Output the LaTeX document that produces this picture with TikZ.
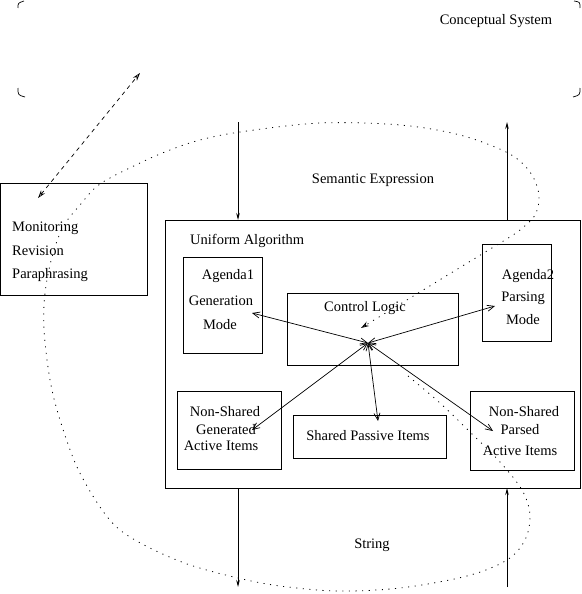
\documentclass[tikz,border=0pt]{standalone}
\usepackage{fontspec}
\setmainfont{Liberation Serif}
\usetikzlibrary{arrows.meta}
\begin{document}
\begin{tikzpicture}[x=1pt,y=-1pt,
  box/.style={draw,line width=0.8pt,inner sep=0pt,outer sep=0pt},
  lbl/.style={inner sep=0pt,font=\fontsize{14.5}{17}\selectfont},
  conn/.style={line width=0.7pt},
  dbl/.style={line width=0.7pt,{Straight Barb[length=7pt,width=6pt]}-{Straight Barb[length=7pt,width=6pt]}},
  flow/.style={line width=0.8pt,-{Stealth[length=7pt,width=3.5pt]}},
  dotline/.style={line width=0.8pt,dash pattern=on 1.1pt off 5.5pt},
  dashline/.style={line width=0.7pt,dash pattern=on 4pt off 4pt}]
\useasboundingbox (0,0) rectangle (581,594);
% Conceptual system corners
\draw[line width=0.7pt] (18,8) .. controls (18,3) .. (24,1);
\draw[line width=0.7pt] (18,88) .. controls (18,95) .. (25,97);
\draw[line width=0.7pt] (574,1) .. controls (580,2) .. (580,8);
\draw[line width=0.7pt] (580,88) .. controls (580,95) .. (573,97);
\node[lbl] (cs) at (496,21) {Conceptual System};
% boxes
\node[box,minimum width=147pt,minimum height=112pt] (mon) at (74.3,239) {};
\node[box,minimum width=415pt,minimum height=268pt] (ua) at (372.5,354) {};
\node[box,minimum width=79pt,minimum height=96pt] (ag1) at (222.5,305) {};
\node[box,minimum width=171pt,minimum height=72pt] (cl) at (372.5,329) {};
\node[box,minimum width=69pt,minimum height=97pt] (ag2) at (516.5,292.5) {};
\node[box,minimum width=104pt,minimum height=78pt] (nsg) at (229,430) {};
\node[box,minimum width=153pt,minimum height=43pt] (spi) at (369.5,436.5) {};
\node[box,minimum width=104pt,minimum height=79pt] (nsp) at (522,430.5) {};
% texts
\node[lbl,anchor=west] (t1) at (12,228) {Monitoring};
\node[lbl,anchor=west] (t2) at (12,251) {Revision};
\node[lbl,anchor=west] (t3) at (12,275) {Paraphrasing};
\node[lbl,anchor=west] (tua) at (190,241) {Uniform Algorithm};
\node[lbl] (a1a) at (228,276) {Agenda1};
\node[lbl] (a1b) at (221,301) {Generation};
\node[lbl] (a1c) at (220,325) {Mode};
\node[lbl] (tcl) at (365,308) {Control Logic};
\node[lbl] (a2a) at (528,276) {Agenda2};
\node[lbl] (a2b) at (523,298) {Parsing};
\node[lbl] (a2c) at (523,320) {Mode};
\node[lbl] (g1) at (225,412) {Non-Shared};
\node[lbl] (g2) at (226,430) {Generated};
\node[lbl] (g3) at (221,446) {Active Items};
\node[lbl] (tspi) at (368,436) {Shared Passive Items};
\node[lbl] (p1) at (524,412) {Non-Shared};
\node[lbl] (p2) at (520,430) {Parsed};
\node[lbl] (p3) at (520,451) {Active Items};
\node[lbl] (se) at (373,180) {Semantic Expression};
\node[lbl] (str) at (372,545) {String};
% hub arrows
\coordinate (hub) at (368,343);
\coordinate (e1) at (252,313);
\coordinate (e2) at (495,306);
\coordinate (e3) at (252,430);
\coordinate (e4) at (378,421);
\coordinate (e5) at (493,431);
\draw[dbl] (hub) -- (e1);
\draw[dbl] (hub) -- (e2);
\draw[dbl] (hub) -- (e3);
\draw[dbl] (hub) -- (e4);
\draw[dbl] (hub) -- (e5);
% vertical flows
\coordinate (s1) at (238,122);
\coordinate (s2) at (507,122);
\coordinate (b1) at (238,587);
\coordinate (b2) at (507,587);
\draw[flow] (s1) -- (s1 |- ua.north);
\draw[flow] (s2 |- ua.north) -- (s2);
\draw[flow] (b1 |- ua.south) -- (b1);
\draw[flow] (b2) -- (b2 |- ua.south);
% dashed arrow
\coordinate (da) at (38,198);
\coordinate (db) at (140,73);
\draw[dashline,{Stealth[length=8pt,width=5pt,open]}-{Stealth[length=8pt,width=5pt,open]}] (da) -- (db);
% dotted spiral
\coordinate (dend) at (361,328);
\draw[dotline,-{Stealth[length=8pt,width=5pt,open]}] plot[smooth,tension=0.55] coordinates {
 (408,376) (440,403) (470,432) (500,462) (522,490) (530,515) (525,540) (507,560)
 (467,576) (400,588) (337,591) (280,586) (238,578) (190,565) (150,548) (120,530)
 (100,507) (77,467) (60,420) (50,380) (44,330) (45,293) (52,257) (63,227) (80,205)
 (100,184) (140,163) (170,150) (200,140) (240,132) (320,123) (400,125) (460,135)
 (508,153) (530,172) (539,195) (535,215) (520,230) (505,240)} -- (dend);
\end{tikzpicture}
\end{document}
